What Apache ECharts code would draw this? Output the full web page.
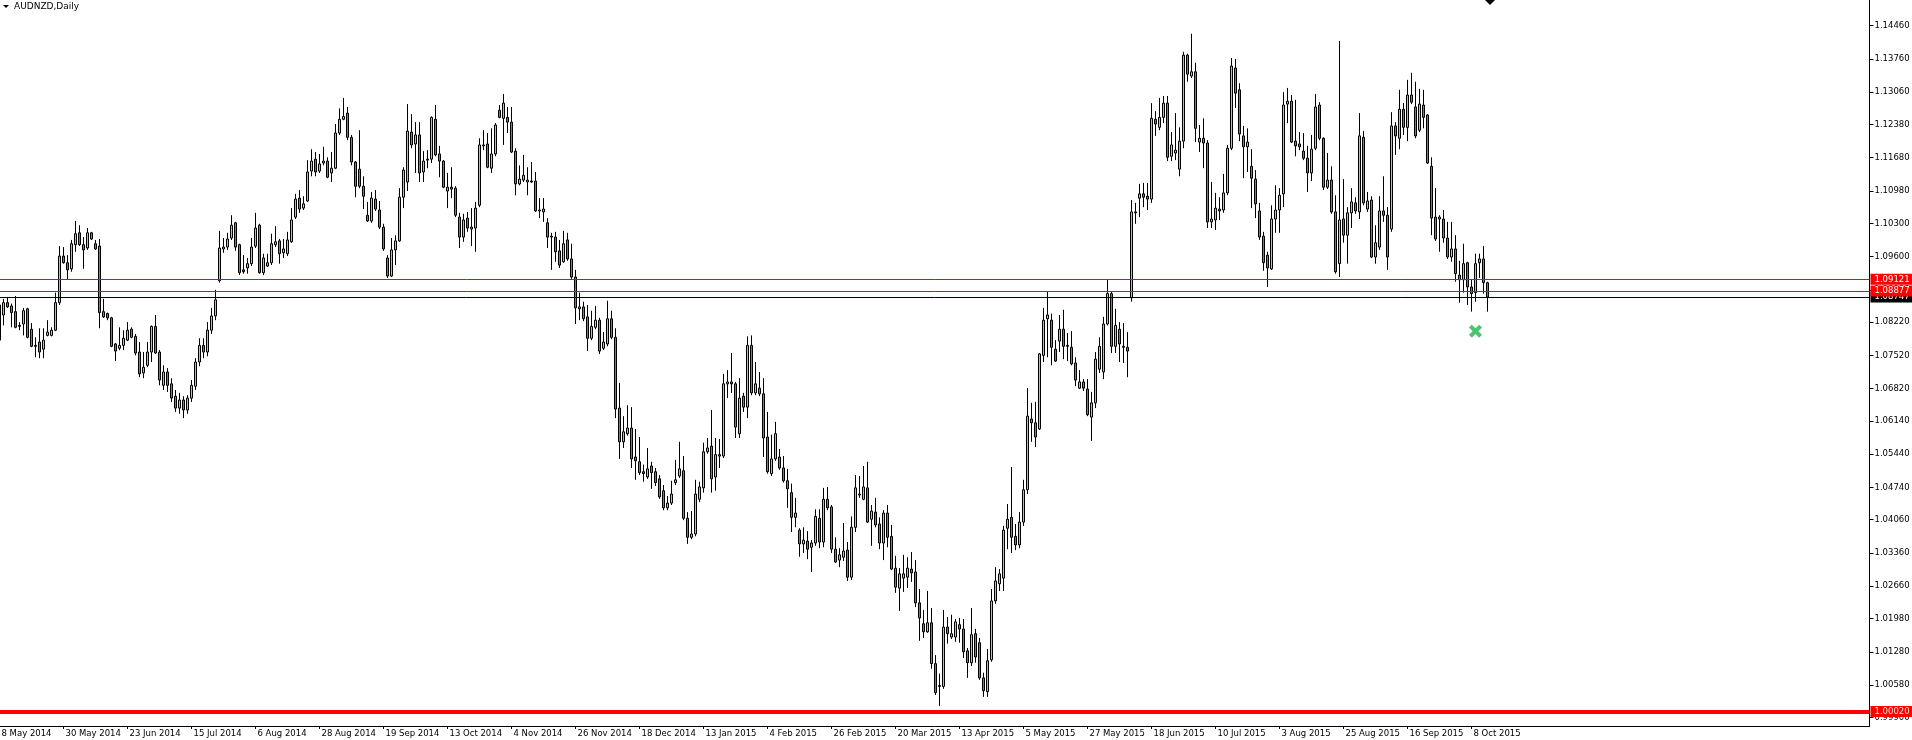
<!DOCTYPE html>
<html>
<head>
<meta charset="utf-8">
<script src="https://cdn.jsdelivr.net/npm/echarts@6/dist/echarts.min.js"></script>
<style>
html,body{margin:0;padding:0;background:#fff;overflow:hidden}
#c{width:1912px;height:740px}
</style>
</head>
<body>
<div id="c"></div>
<script>
const chartTitle = 'AUDNZD,Daily';
const firstDate = '2014-05-08';
const holidays = ['2014-12-25', '2015-01-01'];
const totalSlots = 468;
const axisMin = 0.99717;
const axisMax = 1.15001;
const priceTicks = [0.99900, 1.00580, 1.01280, 1.01980, 1.02660, 1.03360, 1.04060, 1.04740, 1.05440, 1.06140, 1.06820,
  1.07520, 1.08220, 1.08900, 1.09600, 1.10300, 1.10980, 1.11680, 1.12380, 1.13060, 1.13760, 1.14460];
const levelLines = [1.09121, 1.08877];
const bidPrice = 1.08747;
const baseLevel = 1.00020;
const signalDate = '9 Oct 2015';
const signalPrice = 1.0803;

const openP = [
1.0784,1.0837,1.0863,1.0856,1.0844,1.0815,1.0818,1.0850,1.0807,1.0773,
1.0780,1.0765,1.0794,1.0794,1.0805,1.0863,1.0961,1.0947,1.0934,1.0985,
1.1010,1.0985,1.0978,1.1010,1.0987,1.0982,1.0844,1.0840,1.0831,1.0776,
1.0767,1.0773,1.0784,1.0807,1.0792,1.0759,1.0715,1.0731,1.0759,1.0813,
1.0759,1.0689,1.0717,1.0692,1.0666,1.0641,1.0658,1.0637,1.0662,1.0687,
1.0738,1.0773,1.0759,1.0805,1.0835,1.0909,1.0976,1.0980,1.0999,1.1031,
1.0985,1.0932,1.0936,1.0945,1.0982,1.1026,1.0926,1.0940,1.0947,1.0985,
1.0993,1.0968,1.0966,1.0991,1.1043,1.1083,1.1062,1.1077,1.1140,1.1165,
1.1140,1.1157,1.1161,1.1136,1.1146,1.1220,1.1249,1.1262,1.1211,1.1159,
1.1144,1.1108,1.1047,1.1035,1.1081,1.1058,1.1022,1.0957,1.0919,1.0974,
1.0993,1.1085,1.1117,1.1222,1.1197,1.1216,1.1138,1.1165,1.1165,1.1249,
1.1176,1.1161,1.1098,1.1106,1.1104,1.1043,1.1001,1.1041,1.1018,1.1020,
1.1068,1.1195,1.1197,1.1146,1.1176,1.1268,1.1251,1.1253,1.1243,1.1182,
1.1113,1.1121,1.1117,1.1119,1.1119,1.1058,1.1054,1.1031,1.1003,1.1001,
1.0972,1.0949,1.0995,1.0955,1.0917,1.0850,1.0854,1.0833,1.0788,1.0811,
1.0826,1.0767,1.0776,1.0829,1.0790,1.0641,1.0570,1.0587,1.0599,1.0538,
1.0528,1.0507,1.0496,1.0519,1.0507,1.0492,1.0467,1.0431,1.0441,1.0484,
1.0498,1.0509,1.0409,1.0369,1.0376,1.0449,1.0473,1.0549,1.0561,1.0496,
1.0543,1.0540,1.0692,1.0696,1.0692,1.0587,1.0666,1.0643,1.0773,1.0673,
1.0683,1.0671,1.0580,1.0503,1.0534,1.0538,1.0515,1.0488,1.0463,1.0411,
1.0384,1.0355,1.0361,1.0348,1.0357,1.0409,1.0359,1.0449,1.0433,1.0344,
1.0321,1.0327,1.0342,1.0285,1.0390,1.0460,1.0449,1.0473,1.0407,1.0422,
1.0397,1.0357,1.0420,1.0371,1.0304,1.0262,1.0283,1.0285,1.0302,1.0296,
1.0231,1.0187,1.0170,1.0189,1.0103,1.0057,1.0055,1.0180,1.0159,1.0159,
1.0185,1.0176,1.0130,1.0105,1.0166,1.0147,1.0073,1.0044,1.0111,1.0235,
1.0271,1.0283,1.0388,1.0411,1.0371,1.0353,1.0401,1.0469,1.0618,1.0610,
1.0597,1.0752,1.0829,1.0826,1.0765,1.0782,1.0807,1.0773,1.0769,1.0736,
1.0683,1.0696,1.0681,1.0622,1.0652,1.0723,1.0717,1.0818,1.0882,1.0771,
1.0807,1.0771,1.0769,1.0873,1.1054,1.1083,1.1092,1.1087,1.1081,1.1249,
1.1232,1.1253,1.1283,1.1171,1.1178,1.1144,1.1203,1.1384,1.1340,1.1349,
1.1201,1.1209,1.1199,1.1033,1.1037,1.1060,1.1058,1.1094,1.1188,1.1357,
1.1311,1.1214,1.1191,1.1150,1.1123,1.1056,1.1003,1.0963,1.0934,1.1039,
1.1058,1.1092,1.1281,1.1287,1.1203,1.1197,1.1182,1.1167,1.1136,1.1188,
1.1279,1.1209,1.1106,1.1121,1.1054,1.0945,1.1039,1.1005,1.1052,1.1073,
1.1054,1.1211,1.1060,1.1079,1.0959,1.0980,1.1056,1.1047,1.1018,1.1235,
1.1209,1.1270,1.1232,1.1300,1.1275,1.1226,1.1279,1.1258,1.1150,1.1043,
1.1039,1.1039,1.0999,1.0959,1.0976,1.0921,1.0911,1.0947,1.0896,1.0884,
1.0947,1.0955,1.0905];

const closeP = [
1.0858,1.0863,1.0854,1.0842,1.0811,1.0813,1.0846,1.0790,1.0771,1.0771,
1.0759,1.0784,1.0801,1.0805,1.0863,1.0961,1.0947,1.0932,1.0987,1.1008,
1.0985,1.0974,1.1010,1.0997,1.0976,1.0842,1.0833,1.0831,1.0771,1.0761,
1.0773,1.0788,1.0805,1.0790,1.0757,1.0713,1.0727,1.0759,1.0813,1.0757,
1.0700,1.0717,1.0689,1.0662,1.0641,1.0658,1.0637,1.0662,1.0689,1.0738,
1.0773,1.0759,1.0805,1.0835,1.0869,1.0978,1.0980,1.0997,1.1026,1.0980,
1.0926,1.0928,1.0945,1.0980,1.1020,1.0926,1.0957,1.0947,1.0987,1.0991,
1.0966,1.0976,1.0995,1.1037,1.1081,1.1060,1.1071,1.1138,1.1161,1.1138,
1.1155,1.1161,1.1127,1.1146,1.1220,1.1249,1.1255,1.1211,1.1159,1.1108,
1.1108,1.1087,1.1035,1.1083,1.1060,1.1022,1.0976,1.0919,1.0974,1.0993,
1.1085,1.1142,1.1224,1.1195,1.1216,1.1136,1.1161,1.1163,1.1253,1.1174,
1.1161,1.1106,1.1106,1.1102,1.1047,1.1001,1.1037,1.1020,1.1022,1.1062,
1.1195,1.1193,1.1148,1.1176,1.1237,1.1253,1.1283,1.1243,1.1180,1.1113,
1.1123,1.1131,1.1121,1.1117,1.1056,1.1056,1.1060,1.1001,1.1001,1.0970,
1.0942,1.0987,1.0955,1.0917,1.0852,1.0854,1.0829,1.0788,1.0813,1.0826,
1.0761,1.0780,1.0829,1.0790,1.0639,1.0570,1.0591,1.0599,1.0534,1.0530,
1.0505,1.0503,1.0513,1.0505,1.0484,1.0454,1.0431,1.0441,1.0460,1.0490,
1.0513,1.0409,1.0369,1.0376,1.0460,1.0475,1.0549,1.0557,1.0492,1.0543,
1.0540,1.0692,1.0696,1.0692,1.0601,1.0662,1.0643,1.0773,1.0673,1.0692,
1.0671,1.0578,1.0507,1.0534,1.0587,1.0515,1.0488,1.0471,1.0411,1.0420,
1.0355,1.0363,1.0344,1.0357,1.0413,1.0359,1.0449,1.0431,1.0344,1.0317,
1.0332,1.0340,1.0285,1.0390,1.0473,1.0458,1.0475,1.0401,1.0424,1.0395,
1.0357,1.0420,1.0369,1.0302,1.0264,1.0292,1.0292,1.0304,1.0294,1.0231,
1.0199,1.0170,1.0189,1.0103,1.0042,1.0055,1.0180,1.0166,1.0166,1.0191,
1.0176,1.0128,1.0105,1.0164,1.0117,1.0073,1.0046,1.0109,1.0235,1.0277,
1.0292,1.0384,1.0407,1.0369,1.0353,1.0401,1.0469,1.0624,1.0610,1.0580,
1.0755,1.0826,1.0837,1.0769,1.0740,1.0807,1.0771,1.0771,1.0734,1.0700,
1.0696,1.0683,1.0627,1.0652,1.0744,1.0771,1.0818,1.0882,1.0771,1.0815,
1.0776,1.0769,1.0761,1.1054,1.1052,1.1092,1.1085,1.1081,1.1251,1.1239,
1.1253,1.1283,1.1169,1.1195,1.1184,1.1203,1.1384,1.1344,1.1349,1.1230,
1.1209,1.1199,1.1033,1.1039,1.1062,1.1056,1.1094,1.1188,1.1361,1.1304,
1.1218,1.1191,1.1201,1.1125,1.1071,1.1001,1.0947,1.0936,1.1039,1.1058,
1.1089,1.1279,1.1287,1.1201,1.1193,1.1191,1.1167,1.1136,1.1186,1.1275,
1.1209,1.1106,1.1121,1.1054,1.0928,1.1037,1.1005,1.1052,1.1075,1.1056,
1.1214,1.1073,1.1077,1.0959,1.0989,1.1056,1.1047,1.0959,1.1235,1.1214,
1.1270,1.1232,1.1300,1.1285,1.1214,1.1281,1.1253,1.1157,1.1041,1.0997,
1.1043,1.0999,1.0959,1.0976,1.0924,1.0911,1.0945,1.0896,1.0882,1.0945,
1.0955,1.0905,1.08747];

const lowP = [
1.0763,1.0815,1.0852,1.0811,1.0809,1.0805,1.0794,1.0788,1.0769,1.0748,
1.0746,1.0746,1.0792,1.0792,1.0803,1.0858,1.0945,1.0911,1.0928,1.0970,
1.0982,1.0934,1.0974,1.0995,1.0974,1.0809,1.0831,1.0826,1.0769,1.0740,
1.0763,1.0763,1.0782,1.0788,1.0752,1.0706,1.0704,1.0727,1.0738,1.0755,
1.0689,1.0679,1.0675,1.0654,1.0633,1.0629,1.0620,1.0629,1.0654,1.0679,
1.0729,1.0746,1.0750,1.0797,1.0826,1.0905,1.0968,1.0974,1.0995,1.0972,
1.0921,1.0924,1.0924,1.0940,1.0978,1.0924,1.0921,1.0938,1.0942,1.0980,
1.0945,1.0957,1.0961,1.0989,1.1039,1.1052,1.1058,1.1075,1.1129,1.1129,
1.1136,1.1152,1.1125,1.1117,1.1144,1.1216,1.1247,1.1205,1.1152,1.1085,
1.1104,1.1060,1.1033,1.1031,1.1056,1.1018,1.0972,1.0915,1.0917,1.0942,
1.0991,1.1062,1.1098,1.1188,1.1136,1.1117,1.1117,1.1146,1.1157,1.1171,
1.1127,1.1104,1.1062,1.1083,1.1043,1.0978,1.0991,1.1012,1.0982,1.0970,
1.1064,1.1184,1.1146,1.1136,1.1171,1.1251,1.1195,1.1220,1.1178,1.1089,
1.1110,1.1117,1.1089,1.1115,1.1054,1.1041,1.1033,1.0978,1.0932,1.0949,
1.0936,1.0947,1.0951,1.0913,1.0818,1.0826,1.0824,1.0761,1.0784,1.0807,
1.0755,1.0763,1.0771,1.0786,1.0620,1.0534,1.0557,1.0583,1.0515,1.0490,
1.0500,1.0486,1.0492,1.0471,1.0477,1.0450,1.0426,1.0426,1.0437,1.0479,
1.0494,1.0405,1.0355,1.0365,1.0371,1.0443,1.0463,1.0545,1.0463,1.0467,
1.0515,1.0536,1.0662,1.0673,1.0578,1.0578,1.0633,1.0620,1.0668,1.0668,
1.0666,1.0538,1.0503,1.0498,1.0530,1.0511,1.0484,1.0431,1.0380,1.0390,
1.0328,1.0336,1.0323,1.0296,1.0351,1.0346,1.0348,1.0426,1.0336,1.0315,
1.0306,1.0319,1.0277,1.0279,1.0380,1.0452,1.0447,1.0399,1.0351,1.0390,
1.0344,1.0321,1.0348,1.0300,1.0252,1.0214,1.0254,1.0262,1.0275,1.0222,
1.0151,1.0157,1.0168,1.0092,1.0037,1.0014,1.0050,1.0145,1.0155,1.0149,
1.0147,1.0115,1.0073,1.0098,1.0105,1.0069,1.0033,1.0033,1.0107,1.0229,
1.0256,1.0256,1.0344,1.0336,1.0342,1.0346,1.0393,1.0460,1.0570,1.0559,
1.0595,1.0738,1.0748,1.0731,1.0738,1.0759,1.0744,1.0740,1.0731,1.0687,
1.0681,1.0677,1.0624,1.0572,1.0641,1.0715,1.0702,1.0815,1.0757,1.0757,
1.0738,1.0736,1.0706,1.0865,1.1029,1.1043,1.1064,1.1058,1.1073,1.1214,
1.1226,1.1241,1.1161,1.1161,1.1163,1.1129,1.1188,1.1328,1.1336,1.1201,
1.1180,1.1146,1.1020,1.1020,1.1016,1.1037,1.1052,1.1089,1.1184,1.1273,
1.1203,1.1125,1.1138,1.1062,1.1041,1.0995,1.0930,1.0896,1.0932,1.1010,
1.1010,1.1064,1.1241,1.1199,1.1171,1.1184,1.1163,1.1096,1.1119,1.1184,
1.1205,1.1100,1.1102,1.1050,1.0924,1.0917,1.0989,1.0945,1.1020,1.1050,
1.1039,1.1068,1.1054,1.0957,1.0945,1.0974,1.1033,1.0932,1.1012,1.1174,
1.1186,1.1216,1.1203,1.1281,1.1209,1.1222,1.1230,1.1155,1.1005,1.0993,
1.0970,1.0989,1.0955,1.0949,1.0907,1.0863,1.0884,1.0858,1.0844,1.0865,
1.0915,1.0882,1.0844];

const highP = [
1.0873,1.0871,1.0873,1.0861,1.0877,1.0822,1.0852,1.0852,1.0820,1.0790,
1.0809,1.0809,1.0826,1.0811,1.0884,1.0982,1.0980,1.0963,1.0995,1.1035,
1.1026,1.1001,1.1020,1.1012,1.0995,1.0997,1.0871,1.0842,1.0833,1.0778,
1.0811,1.0805,1.0822,1.0811,1.0797,1.0780,1.0759,1.0780,1.0815,1.0837,
1.0763,1.0731,1.0725,1.0704,1.0679,1.0673,1.0666,1.0668,1.0700,1.0746,
1.0788,1.0788,1.0822,1.0852,1.0890,1.1014,1.0999,1.1010,1.1047,1.1033,
1.0987,1.0963,1.0957,1.0999,1.1052,1.1029,1.0966,1.0966,1.1008,1.1024,
1.0997,1.0997,1.1012,1.1062,1.1092,1.1100,1.1087,1.1163,1.1186,1.1180,
1.1176,1.1191,1.1169,1.1180,1.1239,1.1272,1.1294,1.1275,1.1216,1.1161,
1.1226,1.1129,1.1075,1.1096,1.1100,1.1077,1.1029,1.0963,1.0999,1.1005,
1.1104,1.1148,1.1281,1.1260,1.1243,1.1243,1.1182,1.1184,1.1255,1.1279,
1.1193,1.1163,1.1136,1.1148,1.1108,1.1052,1.1050,1.1054,1.1062,1.1075,
1.1209,1.1226,1.1220,1.1230,1.1241,1.1279,1.1302,1.1275,1.1275,1.1188,
1.1152,1.1174,1.1148,1.1159,1.1138,1.1083,1.1083,1.1041,1.1010,1.1012,
1.0995,1.1014,1.1010,1.0987,1.0932,1.0884,1.0865,1.0858,1.0846,1.0856,
1.0831,1.0801,1.0867,1.0846,1.0809,1.0694,1.0624,1.0647,1.0643,1.0597,
1.0580,1.0522,1.0557,1.0528,1.0515,1.0500,1.0479,1.0456,1.0488,1.0532,
1.0570,1.0540,1.0422,1.0424,1.0490,1.0486,1.0568,1.0578,1.0637,1.0578,
1.0576,1.0713,1.0721,1.0757,1.0696,1.0704,1.0673,1.0792,1.0794,1.0738,
1.0717,1.0704,1.0633,1.0585,1.0612,1.0555,1.0540,1.0513,1.0482,1.0452,
1.0388,1.0390,1.0382,1.0363,1.0428,1.0428,1.0473,1.0475,1.0437,1.0369,
1.0346,1.0399,1.0359,1.0413,1.0500,1.0498,1.0519,1.0528,1.0437,1.0452,
1.0411,1.0426,1.0437,1.0395,1.0330,1.0304,1.0332,1.0327,1.0338,1.0321,
1.0260,1.0216,1.0256,1.0220,1.0121,1.0082,1.0216,1.0201,1.0206,1.0197,
1.0199,1.0197,1.0136,1.0220,1.0176,1.0157,1.0084,1.0134,1.0260,1.0306,
1.0302,1.0393,1.0439,1.0517,1.0397,1.0422,1.0490,1.0683,1.0652,1.0654,
1.0757,1.0852,1.0886,1.0840,1.0784,1.0837,1.0848,1.0799,1.0803,1.0748,
1.0721,1.0702,1.0702,1.0675,1.0759,1.0790,1.0833,1.0911,1.0886,1.0850,
1.0822,1.0820,1.0801,1.1079,1.1073,1.1113,1.1115,1.1115,1.1283,1.1266,
1.1294,1.1298,1.1298,1.1222,1.1262,1.1232,1.1391,1.1387,1.1429,1.1368,
1.1237,1.1251,1.1205,1.1117,1.1094,1.1085,1.1134,1.1195,1.1378,1.1376,
1.1325,1.1235,1.1230,1.1186,1.1142,1.1073,1.1012,1.0970,1.1068,1.1110,
1.1104,1.1306,1.1315,1.1300,1.1290,1.1222,1.1220,1.1193,1.1216,1.1302,
1.1285,1.1211,1.1178,1.1150,1.1089,1.1414,1.1123,1.1064,1.1104,1.1085,
1.1262,1.1224,1.1096,1.1087,1.1026,1.1087,1.1129,1.1064,1.1264,1.1243,
1.1311,1.1283,1.1332,1.1347,1.1328,1.1313,1.1311,1.1260,1.1169,1.1104,
1.1047,1.1058,1.1033,1.1033,1.1005,1.0951,1.0987,1.0949,1.0911,1.0966,
1.0966,1.0982,1.0907];

// ---- build categories (trading days, weekends and market holidays skipped)
const MONTHS = ['Jan','Feb','Mar','Apr','May','Jun','Jul','Aug','Sep','Oct','Nov','Dec'];
const dates = [];
{
  let t = Date.parse(firstDate + 'T00:00:00Z');
  while (dates.length < totalSlots) {
    const d = new Date(t);
    const wd = d.getUTCDay();
    const iso = d.toISOString().slice(0, 10);
    if (wd !== 0 && wd !== 6 && holidays.indexOf(iso) < 0) {
      dates.push(d.getUTCDate() + ' ' + MONTHS[d.getUTCMonth()] + ' ' + d.getUTCFullYear());
    }
    t += 86400000;
  }
}
const candleCount = openP.length;
const candles = openP.map((o, i) => [o, closeP[i], lowP[i], highP[i]]);
const showDateLabel = (idx) => idx % 16 === 0 && idx < candleCount;

const FONT = "'DejaVu Sans', sans-serif";
const boxLabel = (bg, fg) => ({
  show: true, position: 'end', distance: 1,
  formatter: (p) => Number(p.value).toFixed(5),
  color: fg, backgroundColor: bg, fontSize: 8.5, fontFamily: FONT,
  lineHeight: 10, padding: [1, 8, 0, 4]
});

const chart = echarts.init(document.getElementById('c'), null, {renderer: 'canvas'});
chart.setOption({
  animation: false,
  backgroundColor: '#ffffff',
  grid: {left: -2.5, right: 42.5, top: 0, bottom: 14, containLabel: false, outerBoundsMode: 'none'},
  xAxis: {
    type: 'category', data: dates, boundaryGap: true,
    axisLine: {show: true, onZero: false, lineStyle: {color: '#000', width: 1}},
    axisTick: {show: true, alignWithLabel: true, length: 3, interval: showDateLabel, lineStyle: {color: '#000'}},
    axisLabel: {show: true, interval: showDateLabel, align: 'left', margin: 3, color: '#000',
      fontSize: 8.5, fontFamily: FONT, padding: [0, 0, 0, 2]},
    splitLine: {show: false}
  },
  yAxis: {
    type: 'value', position: 'right', min: axisMin, max: axisMax, scale: true,
    axisLine: {show: true, onZero: false, lineStyle: {color: '#000', width: 1}},
    axisTick: {show: true, length: 4, customValues: priceTicks, lineStyle: {color: '#000'}},
    axisLabel: {show: true, customValues: priceTicks, formatter: (v) => v.toFixed(5), margin: 5,
      color: '#000', fontSize: 8.5, fontFamily: FONT, align: 'left'},
    splitLine: {show: false}
  },
  graphic: [
    {type: 'polygon', shape: {points: [[3, 5], [9, 5], [6, 8]]}, style: {fill: '#000'}},
    {type: 'text', left: 14, top: 2, style: {text: chartTitle, fill: '#000', font: '9px ' + FONT}},
    {type: 'polygon', shape: {points: [[1485, 0], [1495, 0], [1490, 5]]}, style: {fill: '#000'}}
  ],
  series: [
    {
      type: 'candlestick', data: candles, barWidth: 2, z: 2,
      itemStyle: {color: '#87CEEB', color0: '#CD5C5C', borderColor: '#000', borderColor0: '#000',
        borderColorDoji: '#000', borderWidth: 1},
      emphasis: {disabled: true}, silent: true
    },
    {
      type: 'scatter', z: 5, clip: false, silent: true,
      data: [[signalDate, signalPrice]],
      symbol: 'path://M0,3 L3,0 L7,4 L11,0 L14,3 L10,7 L14,11 L11,14 L7,10 L3,14 L0,11 L4,7 Z',
      symbolSize: 13, itemStyle: {color: '#22B14C'},
      markLine: {
        silent: true, symbol: ['none', 'none'], animation: false, precision: 5,
        data: [
          {yAxis: bidPrice, lineStyle: {color: '#000', width: 1, type: 'solid'}, label: boxLabel('#000', '#fff')},
          {yAxis: levelLines[0], lineStyle: {color: '#ff0000', width: 1, type: 'solid'}, label: boxLabel('#ff0000', '#fff')},
          {yAxis: levelLines[1], lineStyle: {color: '#ff0000', width: 1, type: 'solid'}, label: boxLabel('#ff0000', '#fff')},
          {yAxis: baseLevel, lineStyle: {color: '#ff0000', width: 4, type: 'solid'}, label: boxLabel('#ff0000', '#ffe0e0')}
        ]
      }
    }
  ]
});
</script>
</body>
</html>
